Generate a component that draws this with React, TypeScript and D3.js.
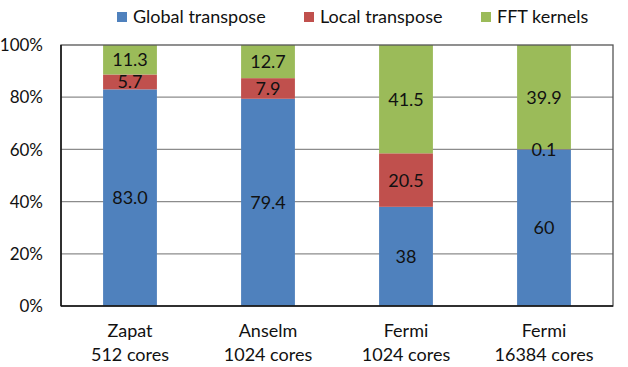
import React from "react";
import * as d3 from "d3";

const categories = ["Zapat|512 cores", "Anselm|1024 cores", "Fermi|1024 cores", "Fermi|16384 cores"];
const seriesNames = ["Global transpose", "Local transpose", "FFT kernels"];
const globalTranspose = [83.0, 79.4, 38, 60];
const localTranspose = [5.7, 7.9, 20.5, 0.1];
const fftKernels = [11.3, 12.7, 41.5, 39.9];
const valueLabels = [
  ["83.0", "79.4", "38", "60"],
  ["5.7", "7.9", "20.5", "0.1"],
  ["11.3", "12.7", "41.5", "39.9"],
];
const yTicks = [0, 20, 40, 60, 80, 100];

const colors = ["#4F81BD", "#C0504D", "#9BBB59"];
const FONT = "Lato, 'Open Sans', sans-serif";

export default function App() {
  const W = 628, H = 367;
  const left = 61, right = 613, top = 45, bottom = 306;
  const x = d3.scaleBand<number>().domain(d3.range(categories.length)).range([left, right]).paddingInner(0.61).paddingOuter(0.305);
  const y = d3.scaleLinear().domain([0, 100]).range([bottom, top]);

  const table = categories.map((c, i) => ({
    i,
    g: globalTranspose[i],
    l: localTranspose[i],
    f: fftKernels[i],
  }));
  const stack = d3.stack<any>().keys(["g", "l", "f"])(table);

  const legendX = [117, 304, 481];
  const fs = 18;

  return (
    <svg width={W} height={H} style={{ position: "absolute", left: 0, top: 0, background: "#fff" }} fontFamily={FONT}>
      <rect x={0} y={0} width={W} height={H} fill="#fff" />
      {yTicks.filter((t) => t > 0 && t < 100).map((t) => (
        <line key={t} x1={left} x2={right} y1={y(t)} y2={y(t)} stroke="#8c8c8c" strokeWidth={1.3} />
      ))}
      {stack.map((s, si) =>
        s.map((d, i) => (
          <rect key={si + "-" + i} x={x(i)} width={x.bandwidth()} y={y(d[1])} height={y(d[0]) - y(d[1])} fill={colors[si]} />
        ))
      )}
      <rect x={left} y={top} width={right - left} height={bottom - top} fill="none" stroke="#555" strokeWidth={1.3} />
      <line x1={left} x2={left} y1={top} y2={bottom} stroke="#111" strokeWidth={1.5} />
      <line x1={left} x2={right} y1={bottom} y2={bottom} stroke="#111" strokeWidth={1.5} />
      {stack.map((s, si) =>
        s.map((d, i) => (
          <text key={"l" + si + "-" + i} x={x(i)! + x.bandwidth() / 2} y={(y(d[0]) + y(d[1])) / 2} dy="0.36em" textAnchor="middle" fontSize={fs} fill="#111">
            {valueLabels[si][i]}
          </text>
        ))
      )}
      {yTicks.map((t) => (
        <text key={t} x={43} y={y(t)} dy="0.36em" textAnchor="end" fontSize={17} fill="#111">
          {t + "%"}
        </text>
      ))}
      {categories.map((c, i) => {
        const [a, b] = c.split("|");
        const cx = x(i)! + x.bandwidth() / 2;
        return (
          <g key={c + i}>
            <text x={cx} y={337} textAnchor="middle" fontSize={fs} fill="#111">{a}</text>
            <text x={cx} y={361} textAnchor="middle" fontSize={fs} fill="#111">{b}</text>
          </g>
        );
      })}
      {seriesNames.map((n, i) => (
        <g key={n}>
          <rect x={legendX[i]} y={12} width={10} height={10} fill={colors[i]} />
          <text x={legendX[i] + 16} y={23} fontSize={fs} fill="#111">{n}</text>
        </g>
      ))}
    </svg>
  );
}
